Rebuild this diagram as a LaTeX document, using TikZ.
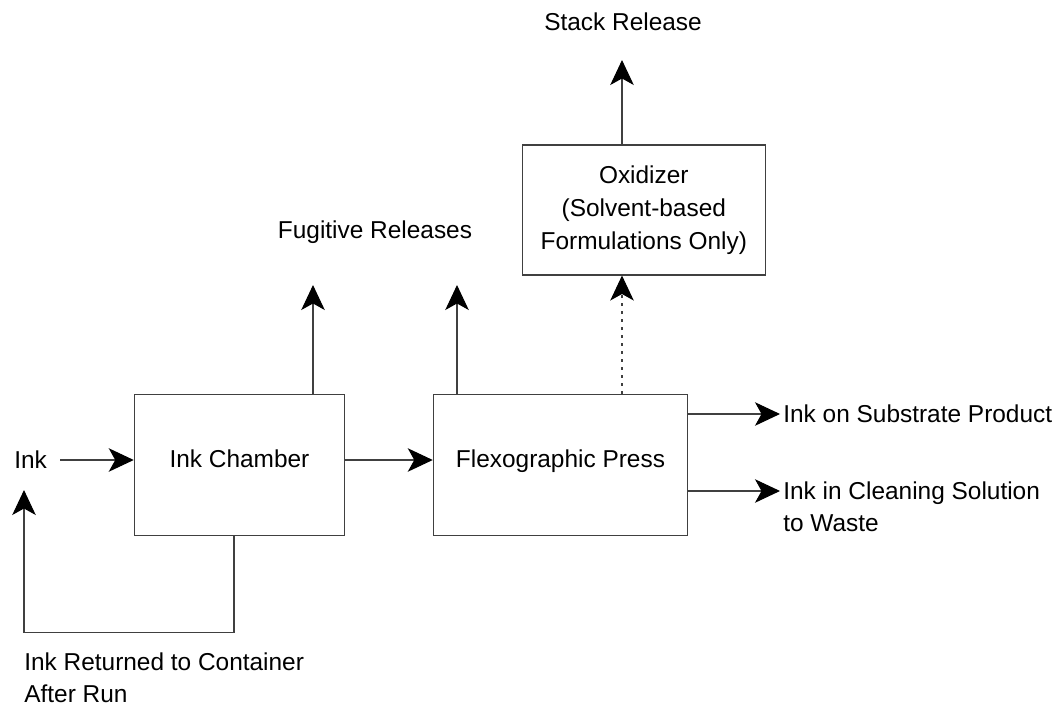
\documentclass[tikz,border=0pt]{standalone}
\usepackage{fontspec}
\setmainfont{Liberation Sans}
\usetikzlibrary{arrows.meta}

\begin{document}
\begin{tikzpicture}[x=0.02cm, y=-0.02cm,
  font=\fontsize{13.9}{18.7}\selectfont,
  blk/.style={draw=black!75, line width=0.6pt, minimum height=2.82cm},
  arr/.style={draw=black!75, line width=0.6pt,
    -{Stealth[length=0.5cm, width=0.47cm, inset=0.13cm, color=black]}},
  lbl/.style={inner sep=0pt, align=left}]
\useasboundingbox (0,0) rectangle (1061,706);

% process blocks
\node[blk, minimum width=4.21cm, text height=0.38cm, text depth=0.27cm] (chamber) at (239.5,465) {Ink Chamber};
\node[blk, minimum width=5.09cm, text height=0.38cm, text depth=0.27cm] (flexo) at (560.5,465) {Flexographic Press};
\node[blk, minimum width=4.87cm, minimum height=2.6cm, align=center] (oxid) at (643.8,210)
  {Oxidizer\\(Solvent-based\\Formulations Only)};

% ink in and back
\node[lbl, anchor=west] (ink) at (14,460) {Ink};
\draw[arr] ([xshift=0.26cm]ink.east) -- (ink -| chamber.west);
\draw[arr] (chamber.east |- ink) -- (flexo.west |- ink);
\coordinate (back) at (24,490);
\draw[arr] ([xshift=-0.11cm]chamber.south) |- (24,632.5) -- (back);
\node[lbl, anchor=north west] (ret) at (24,652) {Ink Returned to Container\\After Run};

% releases
\coordinate (fug1) at (313,285);
\coordinate (fug2) at (457,285);
\draw[arr] (chamber.north -| fug1) -- (fug1);
\draw[arr] (flexo.north -| fug2) -- (fug2);
\node[anchor=base] (fug) at (375,238.75) {Fugitive Releases};

\coordinate (stk) at (622,60);
\draw[arr, dash pattern=on 0.06cm off 0.1cm] (flexo.north -| stk) -- (oxid.south -| stk);
\draw[arr] (oxid.north -| stk) -- (stk);
\node[anchor=base] (stack) at (623,30.75) {Stack Release};

% products
\node[lbl, anchor=west] (sub) at (783,414) {Ink on Substrate Product};
\draw[arr] (flexo.east |- sub) -- ([xshift=-0.06cm]sub.west);
\coordinate (cl) at (780,491);
\draw[arr] (flexo.east |- cl) -- (cl);
\node[lbl, anchor=north west] (clean) at (783,481) {Ink in Cleaning Solution\\to Waste};
\end{tikzpicture}
\end{document}
